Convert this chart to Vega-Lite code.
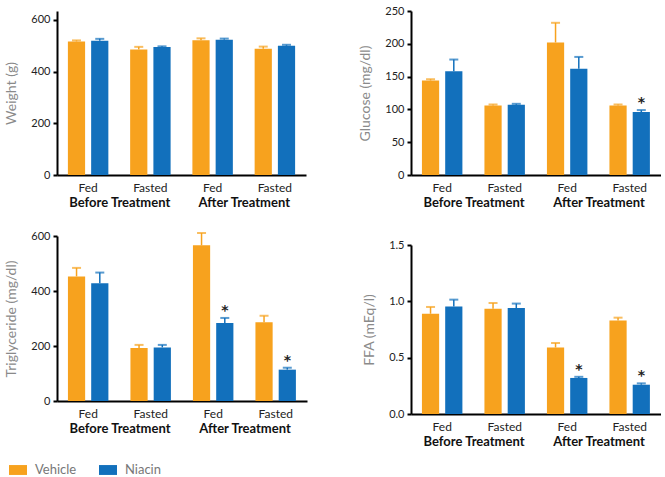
{
  "$schema": "https://vega.github.io/schema/vega-lite/v6.json",
  "padding": {"left": 4, "top": 5, "right": 0, "bottom": 0},
  "datasets": {
    "d": [
      {"panel": "W", "phase": "Before Treatment", "grp": "Before|Fed", "treat": "Vehicle", "mean": 517, "hi": 521, "star": false},
      {"panel": "W", "phase": "Before Treatment", "grp": "Before|Fed", "treat": "Niacin", "mean": 520, "hi": 527, "star": false},
      {"panel": "W", "phase": "Before Treatment", "grp": "Before|Fasted", "treat": "Vehicle", "mean": 486, "hi": 496, "star": false},
      {"panel": "W", "phase": "Before Treatment", "grp": "Before|Fasted", "treat": "Niacin", "mean": 495, "hi": 498, "star": false},
      {"panel": "W", "phase": "After Treatment", "grp": "After|Fed", "treat": "Vehicle", "mean": 522, "hi": 529, "star": false},
      {"panel": "W", "phase": "After Treatment", "grp": "After|Fed", "treat": "Niacin", "mean": 524, "hi": 528, "star": false},
      {"panel": "W", "phase": "After Treatment", "grp": "After|Fasted", "treat": "Vehicle", "mean": 489, "hi": 497, "star": false},
      {"panel": "W", "phase": "After Treatment", "grp": "After|Fasted", "treat": "Niacin", "mean": 500, "hi": 504, "star": false},
      {"panel": "G", "phase": "Before Treatment", "grp": "Before|Fed", "treat": "Vehicle", "mean": 144, "hi": 146, "star": false},
      {"panel": "G", "phase": "Before Treatment", "grp": "Before|Fed", "treat": "Niacin", "mean": 158, "hi": 176, "star": false},
      {"panel": "G", "phase": "Before Treatment", "grp": "Before|Fasted", "treat": "Vehicle", "mean": 106, "hi": 107.5, "star": false},
      {"panel": "G", "phase": "Before Treatment", "grp": "Before|Fasted", "treat": "Niacin", "mean": 107, "hi": 108.5, "star": false},
      {"panel": "G", "phase": "After Treatment", "grp": "After|Fed", "treat": "Vehicle", "mean": 202, "hi": 232, "star": false},
      {"panel": "G", "phase": "After Treatment", "grp": "After|Fed", "treat": "Niacin", "mean": 162, "hi": 180, "star": false},
      {"panel": "G", "phase": "After Treatment", "grp": "After|Fasted", "treat": "Vehicle", "mean": 106, "hi": 107.5, "star": false},
      {"panel": "G", "phase": "After Treatment", "grp": "After|Fasted", "treat": "Niacin", "mean": 96, "hi": 99, "star": true},
      {"panel": "T", "phase": "Before Treatment", "grp": "Before|Fed", "treat": "Vehicle", "mean": 453, "hi": 484, "star": false},
      {"panel": "T", "phase": "Before Treatment", "grp": "Before|Fed", "treat": "Niacin", "mean": 428, "hi": 467, "star": false},
      {"panel": "T", "phase": "Before Treatment", "grp": "Before|Fasted", "treat": "Vehicle", "mean": 193, "hi": 204, "star": false},
      {"panel": "T", "phase": "Before Treatment", "grp": "Before|Fasted", "treat": "Niacin", "mean": 195, "hi": 204, "star": false},
      {"panel": "T", "phase": "After Treatment", "grp": "After|Fed", "treat": "Vehicle", "mean": 566, "hi": 611, "star": false},
      {"panel": "T", "phase": "After Treatment", "grp": "After|Fed", "treat": "Niacin", "mean": 284, "hi": 302, "star": true},
      {"panel": "T", "phase": "After Treatment", "grp": "After|Fasted", "treat": "Vehicle", "mean": 286, "hi": 310, "star": false},
      {"panel": "T", "phase": "After Treatment", "grp": "After|Fasted", "treat": "Niacin", "mean": 114, "hi": 121, "star": true},
      {"panel": "F", "phase": "Before Treatment", "grp": "Before|Fed", "treat": "Vehicle", "mean": 0.89, "hi": 0.95, "star": false},
      {"panel": "F", "phase": "Before Treatment", "grp": "Before|Fed", "treat": "Niacin", "mean": 0.955, "hi": 1.015, "star": false},
      {"panel": "F", "phase": "Before Treatment", "grp": "Before|Fasted", "treat": "Vehicle", "mean": 0.935, "hi": 0.985, "star": false},
      {"panel": "F", "phase": "Before Treatment", "grp": "Before|Fasted", "treat": "Niacin", "mean": 0.94, "hi": 0.98, "star": false},
      {"panel": "F", "phase": "After Treatment", "grp": "After|Fed", "treat": "Vehicle", "mean": 0.59, "hi": 0.63, "star": false},
      {"panel": "F", "phase": "After Treatment", "grp": "After|Fed", "treat": "Niacin", "mean": 0.32, "hi": 0.33, "star": true},
      {"panel": "F", "phase": "After Treatment", "grp": "After|Fasted", "treat": "Vehicle", "mean": 0.83, "hi": 0.855, "star": false},
      {"panel": "F", "phase": "After Treatment", "grp": "After|Fasted", "treat": "Niacin", "mean": 0.26, "hi": 0.272, "star": true}
    ]
  },
  "data": {"name": "d"},
  "hconcat": [
    {
      "spacing": 21,
      "vconcat": [
        {
          "width": 249, "height": 164,
          "transform": [{"filter": "datum.panel === 'W'"}],
          "layer": [
            {
              "encoding": {
                "x": {"field": "grp", "type": "nominal", "sort": ["Before|Fed", "Before|Fasted", "After|Fed", "After|Fasted"], "scale": {"paddingInner": 0.35, "paddingOuter": 0.175}, "axis": {"orient": "bottom", "title": null, "labelExpr": "split(datum.label, '|')[1]", "labelAngle": 0, "ticks": false, "tickSize": 0, "labelPadding": 7, "labelFontSize": 12, "labelColor": "#222", "domainColor": "#000", "domainWidth": 2}},
                "xOffset": {"field": "treat", "type": "nominal", "sort": ["Vehicle", "Niacin"], "scale": {"paddingInner": 0.26, "paddingOuter": 0}},
                "color": {"field": "treat", "type": "nominal", "sort": ["Vehicle", "Niacin"], "scale": {"domain": ["Vehicle", "Niacin"], "range": ["#F7A21E", "#1270BC"]}, "legend": {"title": null, "orient": "none", "legendX": -48, "legendY": 450, "direction": "horizontal"}}
              },
              "layer": [
                {"mark": {"type": "bar"}, "encoding": {"y": {"field": "mean", "type": "quantitative", "scale": {"domain": [0, 634.8], "nice": false}, "axis": {"title": "Weight (g)", "values": [0, 200, 400, 600], "labelOverlap": false}}}},
                {"mark": {"type": "rule", "strokeWidth": 1.5}, "encoding": {"y": {"field": "mean", "type": "quantitative", "axis": {"title": "Weight (g)", "values": [0, 200, 400, 600], "labelOverlap": false}}, "y2": {"field": "hi"}}},
                {"mark": {"type": "tick", "orient": "horizontal", "size": 9, "thickness": 2}, "encoding": {"y": {"field": "hi", "type": "quantitative", "axis": {"title": "Weight (g)", "values": [0, 200, 400, 600], "labelOverlap": false}}}},
                {"transform": [{"filter": "datum.star"}], "mark": {"type": "text", "font": "DejaVu Sans", "fontSize": 14, "fontWeight": "bold", "baseline": "alphabetic", "dy": -3}, "encoding": {"y": {"field": "hi", "type": "quantitative", "axis": {"title": "Weight (g)", "values": [0, 200, 400, 600], "labelOverlap": false}}, "text": {"value": "*"}, "color": {"value": "#222"}}}
              ]
            },
            {"mark": {"type": "point", "opacity": 0}, "encoding": {"x": {"field": "phase", "type": "nominal", "sort": ["Before Treatment", "After Treatment"], "scale": {"paddingInner": 0, "paddingOuter": 0}, "axis": {"orient": "bottom", "title": null, "domain": false, "ticks": false, "tickSize": 0, "labelAngle": 0, "offset": 19, "labelPadding": 2, "labelFontSize": 13, "labelFontWeight": "bold", "labelColor": "#111"}}}}
          ],
          "resolve": {"scale": {"x": "independent"}, "axis": {"x": "independent"}}
        },
        {
          "width": 250, "height": 165,
          "transform": [{"filter": "datum.panel === 'T'"}],
          "layer": [
            {
              "encoding": {
                "x": {"field": "grp", "type": "nominal", "sort": ["Before|Fed", "Before|Fasted", "After|Fed", "After|Fasted"], "scale": {"paddingInner": 0.35, "paddingOuter": 0.175}, "axis": {"orient": "bottom", "title": null, "labelExpr": "split(datum.label, '|')[1]", "labelAngle": 0, "ticks": false, "tickSize": 0, "labelPadding": 7, "labelFontSize": 12, "labelColor": "#222", "domainColor": "#000", "domainWidth": 2}},
                "xOffset": {"field": "treat", "type": "nominal", "sort": ["Vehicle", "Niacin"], "scale": {"paddingInner": 0.26, "paddingOuter": 0}},
                "color": {"field": "treat", "type": "nominal", "sort": ["Vehicle", "Niacin"]}
              },
              "layer": [
                {"mark": {"type": "bar"}, "encoding": {"y": {"field": "mean", "type": "quantitative", "scale": {"domain": [0, 600], "nice": false}, "axis": {"title": "Triglyceride (mg/dl)", "values": [0, 200, 400, 600], "labelOverlap": false}}}},
                {"mark": {"type": "rule", "strokeWidth": 1.5}, "encoding": {"y": {"field": "mean", "type": "quantitative", "axis": {"title": "Triglyceride (mg/dl)", "values": [0, 200, 400, 600], "labelOverlap": false}}, "y2": {"field": "hi"}}},
                {"mark": {"type": "tick", "orient": "horizontal", "size": 9, "thickness": 2}, "encoding": {"y": {"field": "hi", "type": "quantitative", "axis": {"title": "Triglyceride (mg/dl)", "values": [0, 200, 400, 600], "labelOverlap": false}}}},
                {"transform": [{"filter": "datum.star"}], "mark": {"type": "text", "font": "DejaVu Sans", "fontSize": 14, "fontWeight": "bold", "baseline": "alphabetic", "dy": -3}, "encoding": {"y": {"field": "hi", "type": "quantitative", "axis": {"title": "Triglyceride (mg/dl)", "values": [0, 200, 400, 600], "labelOverlap": false}}, "text": {"value": "*"}, "color": {"value": "#222"}}}
              ]
            },
            {"mark": {"type": "point", "opacity": 0}, "encoding": {"x": {"field": "phase", "type": "nominal", "sort": ["Before Treatment", "After Treatment"], "scale": {"paddingInner": 0, "paddingOuter": 0}, "axis": {"orient": "bottom", "title": null, "domain": false, "ticks": false, "tickSize": 0, "labelAngle": 0, "offset": 19, "labelPadding": 2, "labelFontSize": 13, "labelFontWeight": "bold", "labelColor": "#111"}}}}
          ],
          "resolve": {"scale": {"x": "independent"}, "axis": {"x": "independent"}}
        }
      ]
    },
    {
      "spacing": 30,
      "vconcat": [
        {
          "width": 250, "height": 164,
          "transform": [{"filter": "datum.panel === 'G'"}],
          "layer": [
            {
              "encoding": {
                "x": {"field": "grp", "type": "nominal", "sort": ["Before|Fed", "Before|Fasted", "After|Fed", "After|Fasted"], "scale": {"paddingInner": 0.35, "paddingOuter": 0.175}, "axis": {"orient": "bottom", "title": null, "labelExpr": "split(datum.label, '|')[1]", "labelAngle": 0, "ticks": false, "tickSize": 0, "labelPadding": 7, "labelFontSize": 12, "labelColor": "#222", "domainColor": "#000", "domainWidth": 2}},
                "xOffset": {"field": "treat", "type": "nominal", "sort": ["Vehicle", "Niacin"], "scale": {"paddingInner": 0.26, "paddingOuter": 0}},
                "color": {"field": "treat", "type": "nominal", "sort": ["Vehicle", "Niacin"]}
              },
              "layer": [
                {"mark": {"type": "bar"}, "encoding": {"y": {"field": "mean", "type": "quantitative", "scale": {"domain": [0, 250], "nice": false}, "axis": {"title": "Glucose (mg/dl)", "values": [0, 50, 100, 150, 200, 250], "labelOverlap": false}}}},
                {"mark": {"type": "rule", "strokeWidth": 1.5}, "encoding": {"y": {"field": "mean", "type": "quantitative", "axis": {"title": "Glucose (mg/dl)", "values": [0, 50, 100, 150, 200, 250], "labelOverlap": false}}, "y2": {"field": "hi"}}},
                {"mark": {"type": "tick", "orient": "horizontal", "size": 9, "thickness": 2}, "encoding": {"y": {"field": "hi", "type": "quantitative", "axis": {"title": "Glucose (mg/dl)", "values": [0, 50, 100, 150, 200, 250], "labelOverlap": false}}}},
                {"transform": [{"filter": "datum.star"}], "mark": {"type": "text", "font": "DejaVu Sans", "fontSize": 14, "fontWeight": "bold", "baseline": "alphabetic", "dy": -3}, "encoding": {"y": {"field": "hi", "type": "quantitative", "axis": {"title": "Glucose (mg/dl)", "values": [0, 50, 100, 150, 200, 250], "labelOverlap": false}}, "text": {"value": "*"}, "color": {"value": "#222"}}}
              ]
            },
            {"mark": {"type": "point", "opacity": 0}, "encoding": {"x": {"field": "phase", "type": "nominal", "sort": ["Before Treatment", "After Treatment"], "scale": {"paddingInner": 0, "paddingOuter": 0}, "axis": {"orient": "bottom", "title": null, "domain": false, "ticks": false, "tickSize": 0, "labelAngle": 0, "offset": 19, "labelPadding": 2, "labelFontSize": 13, "labelFontWeight": "bold", "labelColor": "#111"}}}}
          ],
          "resolve": {"scale": {"x": "independent"}, "axis": {"x": "independent"}}
        },
        {
          "width": 250, "height": 169,
          "transform": [{"filter": "datum.panel === 'F'"}],
          "layer": [
            {
              "encoding": {
                "x": {"field": "grp", "type": "nominal", "sort": ["Before|Fed", "Before|Fasted", "After|Fed", "After|Fasted"], "scale": {"paddingInner": 0.35, "paddingOuter": 0.175}, "axis": {"orient": "bottom", "title": null, "labelExpr": "split(datum.label, '|')[1]", "labelAngle": 0, "ticks": false, "tickSize": 0, "labelPadding": 7, "labelFontSize": 12, "labelColor": "#222", "domainColor": "#000", "domainWidth": 2}},
                "xOffset": {"field": "treat", "type": "nominal", "sort": ["Vehicle", "Niacin"], "scale": {"paddingInner": 0.26, "paddingOuter": 0}},
                "color": {"field": "treat", "type": "nominal", "sort": ["Vehicle", "Niacin"]}
              },
              "layer": [
                {"mark": {"type": "bar"}, "encoding": {"y": {"field": "mean", "type": "quantitative", "scale": {"domain": [0, 1.5], "nice": false}, "axis": {"title": "FFA (mEq/l)", "values": [0, 0.5, 1, 1.5], "format": ".1f", "labelOverlap": false}}}},
                {"mark": {"type": "rule", "strokeWidth": 1.5}, "encoding": {"y": {"field": "mean", "type": "quantitative", "axis": {"title": "FFA (mEq/l)", "values": [0, 0.5, 1, 1.5], "format": ".1f", "labelOverlap": false}}, "y2": {"field": "hi"}}},
                {"mark": {"type": "tick", "orient": "horizontal", "size": 9, "thickness": 2}, "encoding": {"y": {"field": "hi", "type": "quantitative", "axis": {"title": "FFA (mEq/l)", "values": [0, 0.5, 1, 1.5], "format": ".1f", "labelOverlap": false}}}},
                {"transform": [{"filter": "datum.star"}], "mark": {"type": "text", "font": "DejaVu Sans", "fontSize": 14, "fontWeight": "bold", "baseline": "alphabetic", "dy": -3}, "encoding": {"y": {"field": "hi", "type": "quantitative", "axis": {"title": "FFA (mEq/l)", "values": [0, 0.5, 1, 1.5], "format": ".1f", "labelOverlap": false}}, "text": {"value": "*"}, "color": {"value": "#222"}}}
              ]
            },
            {"mark": {"type": "point", "opacity": 0}, "encoding": {"x": {"field": "phase", "type": "nominal", "sort": ["Before Treatment", "After Treatment"], "scale": {"paddingInner": 0, "paddingOuter": 0}, "axis": {"orient": "bottom", "title": null, "domain": false, "ticks": false, "tickSize": 0, "labelAngle": 0, "offset": 19, "labelPadding": 2, "labelFontSize": 13, "labelFontWeight": "bold", "labelColor": "#111"}}}}
          ],
          "resolve": {"scale": {"x": "independent"}, "axis": {"x": "independent"}}
        }
      ]
    }
  ],
  "spacing": 51,
  "config": {
    "font": "Lato",
    "view": {"stroke": null},
    "axis": {"grid": false},
    "axisY": {"domainColor": "#000", "domainWidth": 2, "tickColor": "#000", "tickWidth": 2, "tickSize": 4, "labelPadding": 3, "labelFontSize": 11, "labelColor": "#222", "labelOverlap": false, "titleColor": "#8a8a8a", "titleFontWeight": "normal", "titleFontSize": 14, "titlePadding": 12},
    "legend": {"symbolType": "M-1,-0.55H1V0.55H-1Z", "symbolSize": 324, "symbolStrokeWidth": 0, "symbolOpacity": 1, "labelFontSize": 13, "labelColor": "#777", "labelOffset": 8, "columnPadding": 22}
  }
}
